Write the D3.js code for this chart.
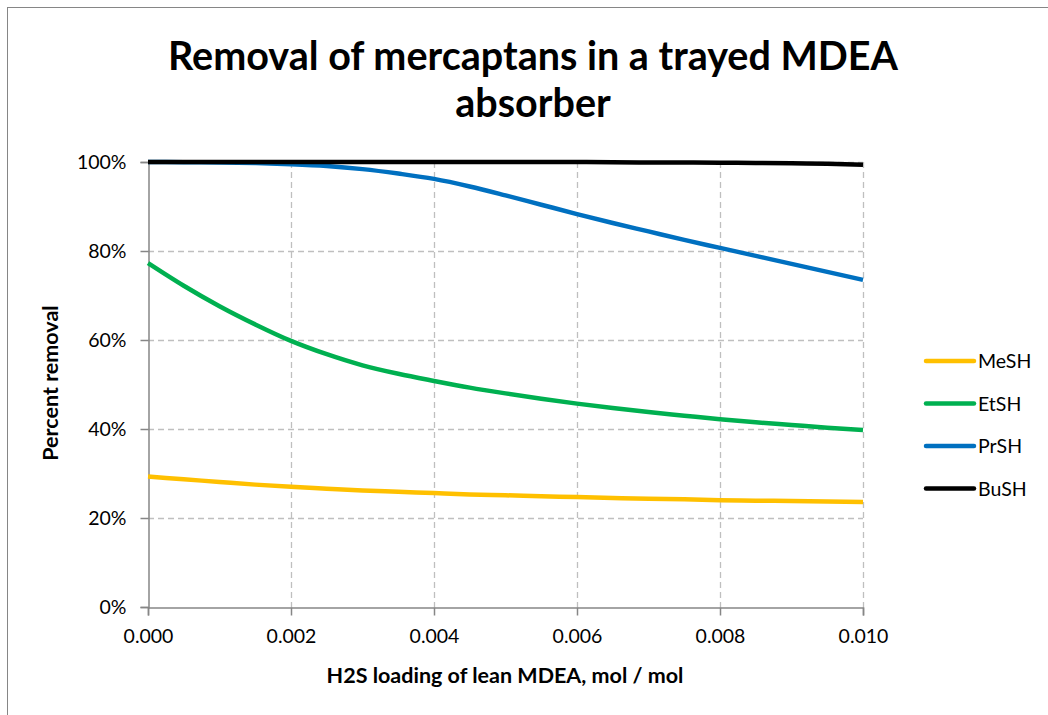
<!DOCTYPE html>
<html>
<head>
<meta charset="utf-8">
<script src="https://cdn.jsdelivr.net/npm/d3@7"></script>
<style>
  body { margin: 0; background: #fff; }
  text { font-family: Lato, "Open Sans", sans-serif; fill: #000; }
</style>
</head>
<body>
<script>
const width = 1048;
const height = 715;
const marginTop = 162;
const marginRight = 185;
const marginBottom = 108;
const marginLeft = 148;

// H2S loading of lean MDEA (mol/mol)
const loading = [0, 0.0005, 0.001, 0.0015, 0.002, 0.0025, 0.003, 0.0035, 0.004, 0.0045, 0.005,
                 0.0055, 0.006, 0.0065, 0.007, 0.0075, 0.008, 0.0085, 0.009, 0.0095, 0.010];
// percent removal
const mesh = [29.3, 28.7, 28.1, 27.5, 27.0, 26.6, 26.2, 25.9, 25.6, 25.3, 25.1,
              24.9, 24.7, 24.5, 24.3, 24.2, 24.0, 23.9, 23.8, 23.7, 23.6];
const etsh = [77.3, 72.2, 67.6, 63.5, 59.8, 56.8, 54.3, 52.4, 50.8, 49.3, 48.0,
              46.8, 45.7, 44.7, 43.8, 43.0, 42.2, 41.5, 40.9, 40.3, 39.8];
const prsh = [100, 99.95, 99.9, 99.75, 99.5, 99.1, 98.4, 97.4, 96.2, 94.5, 92.5,
              90.4, 88.3, 86.3, 84.4, 82.5, 80.7, 78.9, 77.1, 75.3, 73.5];
const bush = [100, 100, 100, 100, 100, 100, 100, 100, 100, 100, 100,
              100, 100, 99.95, 99.9, 99.9, 99.85, 99.8, 99.7, 99.6, 99.4];

const seriesNames = ["MeSH", "EtSH", "PrSH", "BuSH"];
const seriesValues = [mesh, etsh, prsh, bush];
const colors = ["#ffc000", "#00b050", "#0070c0", "#000000"];

const xTicks = [0, 0.002, 0.004, 0.006, 0.008, 0.010];
const yTicks = [0, 20, 40, 60, 80, 100];

const svg = d3.select("body").append("svg")
  .attr("width", width)
  .attr("height", height)
  .attr("viewBox", [0, 0, width, height]);

// chart frame (only top and left edges fall inside the picture)
svg.append("rect")
  .attr("x", 7.5).attr("y", 7.5)
  .attr("width", width + 20).attr("height", height + 20)
  .attr("fill", "none").attr("stroke", "#868686").attr("stroke-width", 1);

const x = d3.scaleLinear().domain([0, 0.010]).range([marginLeft, width - marginRight]);
const y = d3.scaleLinear().domain([0, 100]).range([height - marginBottom, marginTop]);

// grid
svg.append("g").selectAll("line")
  .data(yTicks.filter(d => d > 0))
  .join("line")
    .attr("x1", marginLeft).attr("x2", width - marginRight)
    .attr("y1", d => Math.round(y(d)) + 0.5).attr("y2", d => Math.round(y(d)) + 0.5)
    .attr("stroke", "#bfbfbf").attr("stroke-width", 1.3).attr("stroke-dasharray", "6,4");

svg.append("g").selectAll("line")
  .data(xTicks.filter(d => d > 0))
  .join("line")
    .attr("x1", d => Math.round(x(d)) + 0.5).attr("x2", d => Math.round(x(d)) + 0.5)
    .attr("y1", marginTop).attr("y2", height - marginBottom)
    .attr("stroke", "#bfbfbf").attr("stroke-width", 1.3).attr("stroke-dasharray", "6,4");

// axes
const xAxis = svg.append("g")
  .attr("transform", `translate(0,${Math.round(height - marginBottom) + 0.5})`)
  .call(d3.axisBottom(x).tickValues(xTicks).tickFormat(d3.format(".3f")).tickSize(8).tickPadding(14));

const yAxis = svg.append("g")
  .attr("transform", `translate(${marginLeft + 0.5},0)`)
  .call(d3.axisLeft(y).tickValues(yTicks).tickFormat(d => d + "%").tickSize(8).tickPadding(14));

[xAxis, yAxis].forEach(a => {
  a.select(".domain").attr("stroke", "#868686").attr("stroke-width", 1.5);
  a.selectAll(".tick line").attr("stroke", "#868686").attr("stroke-width", 1.5);
  a.selectAll(".tick text").attr("font-size", 19.5).attr("font-family", "Lato, sans-serif").attr("fill", "#000");
});

// lines
const line = d3.line()
  .x((d, i) => x(loading[i]))
  .y(d => y(d))
  .curve(d3.curveMonotoneX);

svg.append("g").selectAll("path")
  .data(seriesValues)
  .join("path")
    .attr("d", line)
    .attr("fill", "none")
    .attr("stroke", (d, i) => colors[i])
    .attr("stroke-width", 4.5);

// legend
const legend = svg.append("g").selectAll("g")
  .data(seriesNames)
  .join("g")
    .attr("transform", (d, i) => `translate(926,${361 + i * 42.5})`);
legend.append("line")
  .attr("x1", 0).attr("x2", 48)
  .attr("stroke", (d, i) => colors[i])
  .attr("stroke-width", 4.5)
  .attr("stroke-linecap", "round");
legend.append("text")
  .attr("x", 52).attr("dy", "0.36em")
  .attr("font-size", 19.5)
  .text(d => d);

// titles
svg.append("text")
  .attr("x", 533).attr("y", 70)
  .attr("text-anchor", "middle")
  .attr("font-size", 39.5).attr("font-weight", "bold")
  .text("Removal of mercaptans in a trayed MDEA");
svg.append("text")
  .attr("x", 533).attr("y", 117)
  .attr("text-anchor", "middle")
  .attr("font-size", 39.5).attr("font-weight", "bold")
  .text("absorber");

svg.append("text")
  .attr("x", 505).attr("y", 683)
  .attr("text-anchor", "middle")
  .attr("font-size", 21.5).attr("font-weight", "bold")
  .text("H2S loading of lean MDEA, mol / mol");

svg.append("text")
  .attr("transform", "translate(58,383) rotate(-90)")
  .attr("text-anchor", "middle")
  .attr("font-size", 21.5).attr("font-weight", "bold")
  .text("Percent removal");
</script>
</body>
</html>
